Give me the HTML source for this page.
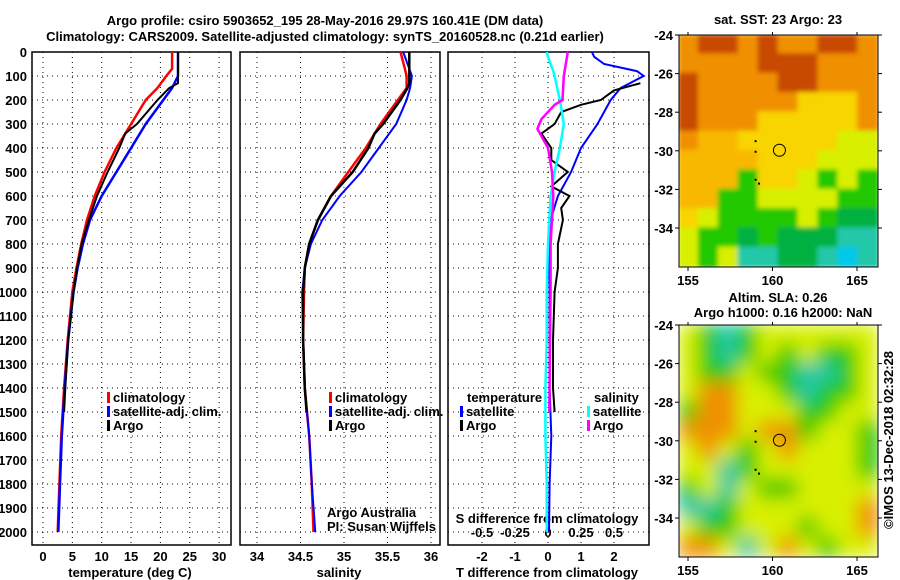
<!DOCTYPE html>
<html><head><meta charset="utf-8"><style>
body{margin:0;background:#fff;}
svg{display:block;font-family:"Liberation Sans",sans-serif;}
.b{font-weight:bold;font-size:13px;}
</style></head><body>
<svg id="c" width="900" height="580">
<text class="b" x="325" y="25" text-anchor="middle" font-size="14">Argo profile: csiro 5903652_195 28-May-2016 29.97S 160.41E (DM data)</text>
<text class="b" x="325" y="41" text-anchor="middle" font-size="14">Climatology: CARS2009. Satellite-adjusted climatology: synTS_20160528.nc (0.21d earlier)</text>
<g id="g"></g>
</svg>
<script>
// ---- data ----
const depthTicks=[0,100,200,300,400,500,600,700,800,900,1000,1100,1200,1300,1400,1500,1600,1700,1800,1900,2000];
const tTicks=[0,5,10,15,20,25,30];
const sTicks=[34,34.5,35,35.5,36];
const dTTicks=[-2,-1,0,1,2];
const dSTicks=[-0.5,-0.25,0,0.25,0.5];
const dSTickLabels=["-0.5","-0.25","0","0.25","0.5"];
const argoDepth=[0,130,150,200,300,340,400,500,600,700,800,900,1000,1200,1400,1500];
const argoT=[23,23,21.5,19.5,16,14,13,11,9.2,7.8,6.6,5.8,5.2,4.3,3.8,3.6];
const argoS=[35.75,35.75,35.73,35.65,35.45,35.35,35.28,35.1,34.85,34.7,34.6,34.55,34.53,34.53,34.55,34.57];
const climDepth=[0,70,100,150,200,300,400,500,600,700,800,900,1000,1200,1400,1600,1800,2000];
const climT=[22,22,21,19.5,17.5,15,12.5,10.5,8.8,7.5,6.5,5.7,5.0,4.2,3.6,3.1,2.8,2.5];
const climS=[35.65,35.7,35.72,35.72,35.62,35.42,35.25,35.05,34.85,34.7,34.6,34.55,34.54,34.53,34.55,34.6,34.63,34.65];
const satT=[23,23,23,22,20.5,17.5,15,12.5,10,8,6.8,5.9,5.2,4.3,3.7,3.2,2.9,2.6];
const satS=[35.68,35.75,35.78,35.76,35.72,35.6,35.4,35.2,34.95,34.75,34.62,34.55,34.52,34.53,34.55,34.6,34.63,34.67];
const dSatDepth=[0,20,50,80,100,150,200,300,400,500,600,700,800,1000,1200,1400,1600,1800,2000];
const dSatT=[1.33,1.4,1.7,2.7,2.9,2.2,1.9,1.5,1.0,0.7,0.3,0.08,0.03,0.05,0.05,0.05,0.1,0.05,0.03];
const dSatS=[-0.01,0.0,0.02,0.04,0.05,0.07,0.09,0.12,0.09,0.05,0.02,0.01,0,-0.01,-0.01,-0.02,-0.02,-0.01,-0.01];
const dArgoDepth=[130,160,200,220,250,300,340,400,450,500,560,600,650,700,800,900,1000,1200,1400,1500];
const dArgoT=[2.8,2.0,1.6,1.0,0.4,0.2,-0.2,0.1,0.1,0.6,0.1,0.65,0.4,0.45,0.3,0.3,0.2,0.15,0.15,0.2];
const dArgoSDepth=[0,100,200,220,280,320,400,500,600,700,800,1000,1200,1500];
const dArgoS=[0.15,0.12,0.11,0.05,-0.05,-0.08,0.0,0.03,0.04,0.03,0.02,0.02,0.015,0.01];
const sstGrid=["ORROROORRO","OOOORRROOO","ROOOORROOO","ROOOOOYYYO","ROOOYYYYYO","OooYYYYYyy","ooooYYYyyy","oooGYYyGyG","ooGGyyyyGG","YyGGGGyGgg","yGGgGgggCC","yGyCCggCBC"];
const slaGrid=["yGCGyyyyyy","yGCGyGyGGy","yGGyGGCCGy","yOOyyGCGGy","GOOyyyGGyy","OOOyOOGyyG","yOyGyOyyyG","yyCGyyyyyG","GyCyGGyyyy","CCGyyyyyyO","yGGyyyGyyO","OOyCyOyGyy"];
const latTicks=[-24,-26,-28,-30,-32,-34];
const lonTicks=[155,160,165];
// ---- drawing ----
const NS='http://www.w3.org/2000/svg';
const g=document.getElementById('g');
function el(tag,attrs,parent){const e=document.createElementNS(NS,tag);for(const k in attrs)e.setAttribute(k,attrs[k]);(parent||g).appendChild(e);return e;}
function txt(x,y,s,anchor,cls,parent){const e=el('text',{x:x,y:y,'text-anchor':anchor||'middle','class':cls||'b'},parent);e.textContent=s;return e;}
const topY=52,botY=545;
const yD=d=>52+d*0.24;
const xT=t=>43+t*5.87;
const xS=s=>257+(s-34)*87;
const xDT=t=>548+t*33;
const xDS=s=>548+s*132;
const panels=[[32,231],[240,440],[448,649]];
panels.forEach((p,i)=>{
  const r=el('rect',{x:p[0],y:topY,width:p[1]-p[0],height:botY-topY,fill:'none',stroke:'#000','stroke-width':1.5});
  
  
  depthTicks.forEach(d=>{
    const l=el('line',{x1:p[0],x2:p[1],y1:yD(d),y2:yD(d),stroke:'#000','stroke-dasharray':'1,4'});
    
    
  });
});
function vgrid(ticks,fx){ticks.forEach(t=>{const l=el('line',{x1:fx(t),x2:fx(t),y1:topY,y2:botY,stroke:'#000','stroke-dasharray':'1,4'});
  
  });}
vgrid(tTicks,xT);vgrid(sTicks,xS);vgrid(dTTicks,xDT);
depthTicks.forEach(d=>{const t=txt(27,yD(d)+5,String(d),'end');
  
  });
tTicks.forEach(v=>{const t=txt(xT(v),561,String(v));
  
  });
sTicks.forEach(v=>{const t=txt(xS(v),561,String(v));
  
  });
dTTicks.forEach(v=>{const t=txt(xDT(v),561,String(v));
  
  });
dSTicks.forEach((v,i)=>{const t=txt(xDS(v),537,dSTickLabels[i]);
  
  });
let t;
t=txt(130,577,'temperature (deg C)');
t=txt(339,577,'salinity');
t=txt(547,577,'T difference from climatology');
t=txt(547,523,'S difference from climatology');
function line(xs,ds,fx,color,w,name){
  const pts=ds.map((d,i)=>fx(xs[i]).toFixed(1)+','+yD(d).toFixed(1)).join(' ');
  const p=el('polyline',{points:pts,fill:'none',stroke:color,'stroke-width':w});
  
  
}
line(climT,climDepth,xT,'#f00',2.5,'temperature-climatology-line');
line(satT,climDepth,xT,'#00f',2.5,'temperature-satellite-line');
line(argoT,argoDepth,xT,'#000',2,'temperature-argo-line');
line(climS,climDepth,xS,'#f00',2.5,'salinity-climatology-line');
line(satS,climDepth,xS,'#00f',2,'salinity-satellite-line');
line(argoS,argoDepth,xS,'#000',2.5,'salinity-argo-line');
line(dSatT,dSatDepth,xDT,'#00f',2,'t-diff-satellite-line');
line(dArgoT,dArgoDepth,xDT,'#000',2,'t-diff-argo-line');
line(dSatS,dSatDepth,xDS,'#0ff',2.5,'s-diff-satellite-line');
line(dArgoS,dArgoSDepth,xDS,'#f0f',2.5,'s-diff-argo-line');
function legend(x,y,color,label,name){
  const r=el('rect',{x:x,y:y-10,width:3,height:11,fill:color});
  
  
  const tt=txt(x+6,y,label,'start');
  
  
}
[[32,231,107],[240,440,329]].forEach((p,i)=>{
  legend(p[2],402,'#f00','climatology','legend-climatology');
  legend(p[2],416,'#00f','satellite-adj. clim.','legend-satellite');
  legend(p[2],430,'#000','Argo','legend-argo');
});
t=txt(467,402,'temperature','start');
legend(460,416,'#00f','satellite','legend-t-satellite');
legend(460,430,'#000','Argo','legend-t-argo');
t=txt(594,402,'salinity','start');
legend(587,416,'#0ff','satellite','legend-s-satellite');
legend(587,430,'#f0f','Argo','legend-s-argo');
t=txt(327,517,'Argo Australia','start','');t.setAttribute('font-size','13');
t=txt(327,531,'PI: Susan Wijffels','start','');t.setAttribute('font-size','13');
// maps
const cmap={R:'#c84800',O:'#f09000',o:'#f8b800',Y:'#f8d400',y:'#d8f000',G:'#20c800',g:'#00b040',C:'#20c8a8',B:'#00c8e8'};
const defs=el('defs',{});
const f1=el('filter',{id:'bl1',x:'0',y:'0',width:'1',height:'1'},defs);el('feGaussianBlur',{stdDeviation:2.5},f1);
const f2=el('filter',{id:'bl2',x:'0',y:'0',width:'1',height:'1'},defs);el('feGaussianBlur',{stdDeviation:9},f2);
function map(grid,y0,h,filter,name){
  const x0=679,w=199;
  const cp=el('clipPath',{id:'cp'+name},defs);el('rect',{x:x0,y:y0,width:w,height:h},cp);
  const mg=el('g',{'clip-path':'url(#cp'+name+')'});
  
  
  const inner=el('g',{filter:'url(#'+filter+')'},mg);
  const rows=grid.length,cols=grid[0].length,cw=w/cols,ch=h/rows;
  el('rect',{x:x0,y:y0,width:w,height:h,fill:'#f8d400'},inner);
  grid.forEach((row,r)=>[...row].forEach((c,k)=>{el('rect',{x:x0+k*cw-1,y:y0+r*ch-1,width:cw+2,height:ch+2,fill:cmap[c]},inner);}));
  const fr=el('rect',{x:x0,y:y0,width:w,height:h,fill:'none',stroke:'#000','stroke-width':1});
  
  
  const yL=l=>y0+(-24-l)*19.3, xL=l=>688+(l-155)*16.9;
  latTicks.forEach(l=>{el('line',{x1:x0-4,x2:x0,y1:yL(l),y2:yL(l),stroke:'#000'});el('line',{x1:x0+w,x2:x0+w+4,y1:yL(l),y2:yL(l),stroke:'#000'});
    const tt=txt(673,yL(l)+5,String(l),'end');
    
    });
  lonTicks.forEach(l=>{el('line',{x1:xL(l),x2:xL(l),y1:y0-3,y2:y0,stroke:'#000'});el('line',{x1:xL(l),x2:xL(l),y1:y0+h,y2:y0+h+4,stroke:'#000'});
    const tt=txt(xL(l),y0+h+18,String(l));
    
    });
  const ci=el('circle',{cx:xL(160.41),cy:yL(-29.97),r:6,fill:'none',stroke:'#000','stroke-width':1});
  
  
  [[159,-29.5],[159,-30.05],[159,-31.5],[159.2,-31.7]].forEach(p=>el('rect',{x:xL(p[0])-1,y:yL(p[1])-1,width:2,height:2,fill:'#000'}));
}
map(sstGrid,35,232,'bl1','sst-map');
map(slaGrid,325,232,'bl2','sla-map');
t=txt(778,24,'sat. SST: 23 Argo: 23');
t=txt(778,302,'Altim. SLA: 0.26');
t=txt(783,317,'Argo h1000: 0.16 h2000: NaN');
t=txt(0,0,'©IMOS 13-Dec-2018 02:32:28','middle','');t.setAttribute('font-size','13');t.setAttribute('transform','translate(893,440) rotate(-90)');

</script>
</body></html>
